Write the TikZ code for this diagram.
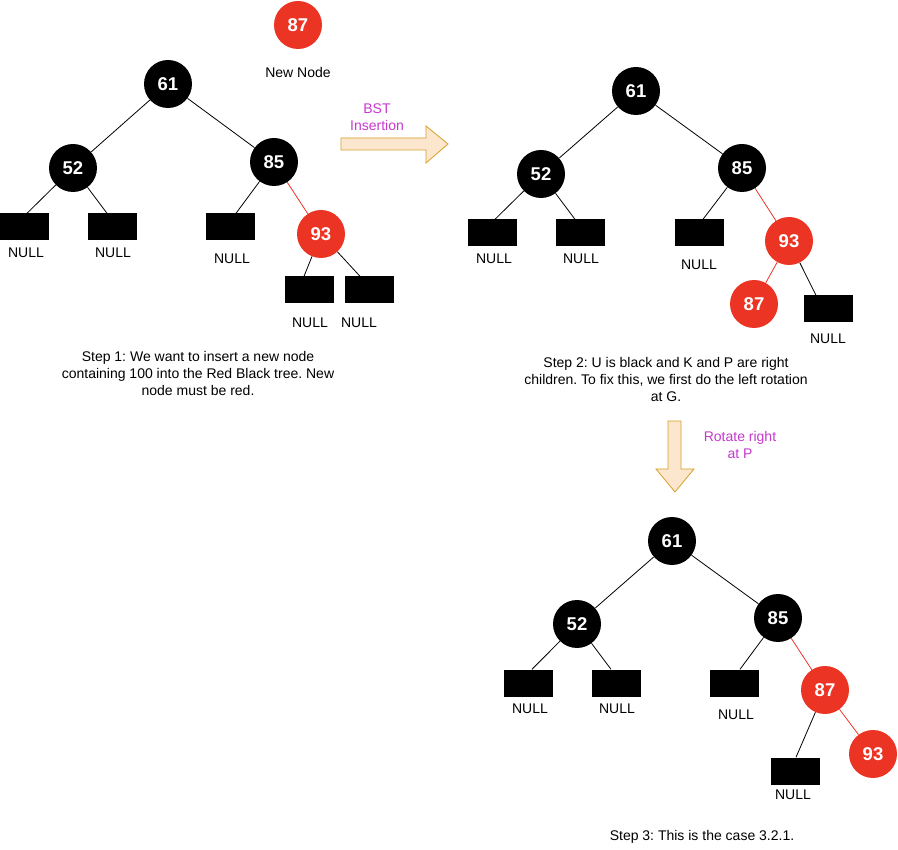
\documentclass[tikz,border=0pt]{standalone}
\usepackage{fontspec}
\setmainfont{Liberation Sans}
\frenchspacing
\definecolor{rbred}{RGB}{236,52,36}
\definecolor{arrowfill}{RGB}{252,230,205}
\definecolor{arrowline}{RGB}{214,160,40}
\definecolor{notepurple}{RGB}{198,56,206}
\begin{document}
\begin{tikzpicture}[x=1pt,y=-1pt,
    blacknode/.style={circle,fill=black,minimum size=48pt,inner sep=0pt,text=white,font=\fontsize{18.5}{18.5}\selectfont\bfseries},
    rednode/.style={blacknode,fill=rbred},
    nullbox/.style={rectangle,fill=black,minimum width=49pt,minimum height=27pt,inner sep=0pt},
    plaintext/.style={inner sep=0pt,align=center,font=\fontsize{14}{17}\selectfont},
    notetext/.style={plaintext,text=notepurple},
    tline/.style={line width=0.8pt},
    redline/.style={tline,draw=rbred},
    blockarrow/.style={draw=arrowline,fill=arrowfill,line width=0.8pt}]
    \useasboundingbox (0,0) rectangle (898,850);

    \node[rednode] (newkey) at (298,25) {87};
    \node[plaintext] (newlbl) at (298,73) {New Node};
    \node[blacknode] (a61) at (168,84) {61};
    \node[blacknode] (a52) at (73,168) {52};
    \node[blacknode] (a85) at (274,162) {85};
    \node[rednode] (a93) at (321,234) {93};
    \node[nullbox] (an1) at (24,227) {};
    \node[nullbox] (an2) at (112,227) {};
    \node[nullbox] (an3) at (230,227) {};
    \node[nullbox] (an4) at (309,290) {};
    \node[nullbox] (an5) at (369,290) {};
    \node[plaintext] (al1) at (26,253) {NULL};
    \node[plaintext] (al2) at (113,253) {NULL};
    \node[plaintext] (al3) at (232,259) {NULL};
    \node[plaintext] (al4) at (310,323) {NULL};
    \node[plaintext] (al5) at (359,323) {NULL};
    \draw[tline] (a61) -- (a52);
    \draw[tline] (a61) -- (a85);
    \draw[tline] (a52) -- ([xshift=3]an1.north);
    \draw[tline] (a52) -- ([xshift=-5]an2.north);
    \draw[tline] (a85) -- ([xshift=6]an3.north);
    \draw[redline] (a85) -- (a93);
    \draw[tline] (a93) -- ([xshift=-5]an4.north);
    \draw[tline] (a93) -- ([xshift=-9]an5.north);
    \node[plaintext] (step1) at (198,373) {Step 1: We want to insert a new node\\containing 100 into the Red Black tree. New\\node must be red.};

    \draw[blockarrow] (341,138) -- (426,138) -- (426,126) -- (448,144) -- (426,163) -- (426,150) -- (341,150) -- cycle;
    \node[notetext] (bstlbl) at (377,117) {BST\\Insertion};

    \node[blacknode] (b61) at (636,91) {61};
    \node[blacknode] (b52) at (541,174) {52};
    \node[blacknode] (b85) at (742,168) {85};
    \node[rednode] (b93) at (789,241) {93};
    \node[rednode] (b87) at (754,304) {87};
    \node[nullbox] (bn1) at (492,233) {};
    \node[nullbox] (bn2) at (580,233) {};
    \node[nullbox] (bn3) at (699,233) {};
    \node[nullbox] (bn4) at (828,309) {};
    \node[plaintext] (bl1) at (494,259) {NULL};
    \node[plaintext] (bl2) at (581,259) {NULL};
    \node[plaintext] (bl3) at (699,265) {NULL};
    \node[plaintext] (bl4) at (828,339) {NULL};
    \draw[tline] (b61) -- (b52);
    \draw[tline] (b61) -- (b85);
    \draw[tline] (b52) -- ([xshift=3]bn1.north);
    \draw[tline] (b52) -- ([xshift=-5]bn2.north);
    \draw[tline] (b85) -- ([xshift=4]bn3.north);
    \draw[redline] (b85) -- (b93);
    \draw[redline] (b93) -- (b87);
    \draw[tline] (b93) -- ([xshift=-12]bn4.north);
    \node[plaintext] (step2) at (666,379) {Step 2: U is black and K and P are right\\children. To fix this, we first do the left rotation\\at G.};

    \draw[blockarrow] (668,421) -- (681,421) -- (681,469) -- (694,469) -- (675,492) -- (656,469) -- (668,469) -- cycle;
    \node[notetext] (rotlbl) at (740,445) {Rotate right\\at P};

    \node[blacknode] (c61) at (672,541) {61};
    \node[blacknode] (c52) at (577,624) {52};
    \node[blacknode] (c85) at (778,618) {85};
    \node[rednode] (c87) at (825,690) {87};
    \node[rednode] (c93) at (873,754) {93};
    \node[nullbox] (cn1) at (528,683) {};
    \node[nullbox] (cn2) at (616,683) {};
    \node[nullbox] (cn3) at (734,683) {};
    \node[nullbox] (cn4) at (795,771) {};
    \node[plaintext] (cl1) at (530,709) {NULL};
    \node[plaintext] (cl2) at (617,709) {NULL};
    \node[plaintext] (cl3) at (736,715) {NULL};
    \node[plaintext] (cl4) at (793,795) {NULL};
    \draw[tline] (c61) -- (c52);
    \draw[tline] (c61) -- (c85);
    \draw[tline] (c52) -- ([xshift=4]cn1.north);
    \draw[tline] (c52) -- ([xshift=-5]cn2.north);
    \draw[tline] (c85) -- ([xshift=6]cn3.north);
    \draw[redline] (c85) -- (c87);
    \draw[tline] (c87) -- ([xshift=1]cn4.north);
    \draw[redline] (c87) -- (c93);
    \node[plaintext] (step3) at (702,837) {Step 3: This is the case 3.2.1.};
\end{tikzpicture}
\end{document}
